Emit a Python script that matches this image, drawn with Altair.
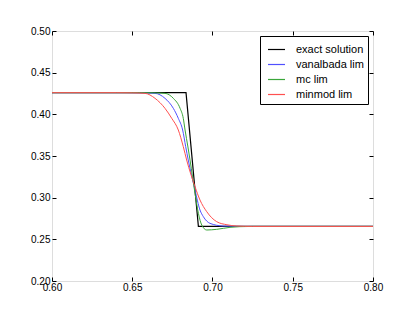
import altair as alt
import pandas as pd

series_names = ["exact solution", "vanalbada lim", "mc lim", "minmod lim"]
series_colors = ["#000000", "#5050ff", "#3aa63a", "#ff5050"]

exact_x = [0.60, 0.6835, 0.6912, 0.80]
exact_y = [0.426, 0.426, 0.2655, 0.2655]

vanalbada_x = [0.60, 0.645, 0.655, 0.6642, 0.6704, 0.6756, 0.6787, 0.6814, 0.6833, 0.6849,
               0.6891, 0.6922, 0.6943, 0.6984, 0.7067, 0.72, 0.80]
vanalbada_y = [0.426, 0.426, 0.4258, 0.4252, 0.4192, 0.4072, 0.3952, 0.3812, 0.3612, 0.3452,
               0.3092, 0.2852, 0.2772, 0.2692, 0.2660, 0.2655, 0.2655]

mc_x = [0.60, 0.655, 0.663, 0.6704, 0.6756, 0.6798, 0.6818, 0.6829, 0.6847, 0.6860,
        0.6891, 0.6912, 0.6933, 0.6964, 0.7026, 0.7109, 0.7171, 0.725, 0.80]
mc_y = [0.426, 0.426, 0.4258, 0.4252, 0.4192, 0.4072, 0.3952, 0.3812, 0.3608, 0.3452,
        0.3052, 0.2812, 0.2672, 0.2612, 0.2620, 0.2644, 0.2652, 0.2655, 0.2655]

minmod_x = [0.60, 0.64, 0.650, 0.6579, 0.6642, 0.6704, 0.6746, 0.6787, 0.6818, 0.6839,
            0.6891, 0.6922, 0.6964, 0.7026, 0.7090, 0.7151, 0.725, 0.80]
minmod_y = [0.426, 0.426, 0.4258, 0.4252, 0.4192, 0.4072, 0.3952, 0.3812, 0.3612, 0.3452,
            0.3132, 0.2972, 0.2832, 0.2712, 0.2675, 0.2660, 0.2655, 0.2655]

x_ticks = [0.60, 0.65, 0.70, 0.75, 0.80]
y_ticks = [0.20, 0.25, 0.30, 0.35, 0.40, 0.45, 0.50]

rows = []
for name, xs, ys in [
    ("exact solution", exact_x, exact_y),
    ("vanalbada lim", vanalbada_x, vanalbada_y),
    ("mc lim", mc_x, mc_y),
    ("minmod lim", minmod_x, minmod_y),
]:
    for i, (a, b) in enumerate(zip(xs, ys)):
        rows.append({"x": a, "y": b, "series": name, "i": i})
df = pd.DataFrame(rows)

xscale = alt.Scale(domain=[0.6, 0.8], nice=False, zero=False)
yscale = alt.Scale(domain=[0.2, 0.5], nice=False, zero=False)

color = alt.Color("series:N",
                  scale=alt.Scale(domain=series_names, range=series_colors),
                  sort=series_names,
                  legend=alt.Legend(title=None, orient="top-right", offset=5,
                                    symbolType="stroke", symbolSize=289,
                                    symbolStrokeWidth=1.2, symbolOffset=3,
                                    labelFontSize=11, labelOffset=10,
                                    rowPadding=-2.7, padding=4,
                                    strokeColor="black", fillColor="white",
                                    cornerRadius=0))

x_bottom = alt.X("x:Q", scale=xscale, title=None,
                 axis=alt.Axis(orient="bottom", values=x_ticks, format=".2f", domain=False,
                               offset=-4, tickSize=4, tickColor="black", tickWidth=1,
                               labelPadding=1, labelFlush=False, grid=False))
y_left = alt.Y("y:Q", scale=yscale, title=None,
               axis=alt.Axis(orient="left", values=y_ticks, format=".2f", domain=False,
                             offset=-4, tickSize=4, tickColor="black", tickWidth=1,
                             labelPadding=2, labelFlush=False, grid=False))

exact_layer = alt.Chart(df).transform_filter(
    alt.datum.series == "exact solution"
).mark_line(strokeWidth=1.2, clip=True, interpolate="linear").encode(
    x=x_bottom, y=y_left, color=color, order="i:Q",
)

lim_layer = alt.Chart(df).transform_filter(
    alt.datum.series != "exact solution"
).mark_line(strokeWidth=1, clip=True, interpolate="monotone").encode(
    x=alt.X("x:Q", scale=xscale), y=alt.Y("y:Q", scale=yscale),
    color=color, detail="series:N", order="i:Q",
)

main = alt.layer(exact_layer, lim_layer)

frame_ticks = alt.Chart(df).mark_line(opacity=0).encode(
    x=alt.X("x:Q", scale=xscale, title=None,
            axis=alt.Axis(orient="top", values=x_ticks, labels=False, domain=False,
                          offset=-4, tickSize=4, tickColor="black", tickWidth=1,
                          grid=False)),
    y=alt.Y("y:Q", scale=yscale, title=None,
            axis=alt.Axis(orient="right", values=y_ticks, labels=False, domain=False,
                          offset=-4, tickSize=4, tickColor="black", tickWidth=1,
                          grid=False)),
    detail="series:N",
)

chart = alt.layer(main, frame_ticks).resolve_axis(
    x="independent", y="independent"
).properties(
    width=321, height=250,
    autosize=alt.AutoSizeParams(type="none"),
    padding={"left": 44, "top": 23, "right": 30, "bottom": 25},
).configure_view(
    stroke="black", strokeWidth=1
).configure_axis(
    labelFont="DejaVu Sans", labelFontSize=8.5, labelColor="black"
).configure_legend(
    labelFont="DejaVu Sans", labelColor="black"
).configure(background="white")

chart.save("out.html", embed_options={"renderer": "svg", "actions": False})
